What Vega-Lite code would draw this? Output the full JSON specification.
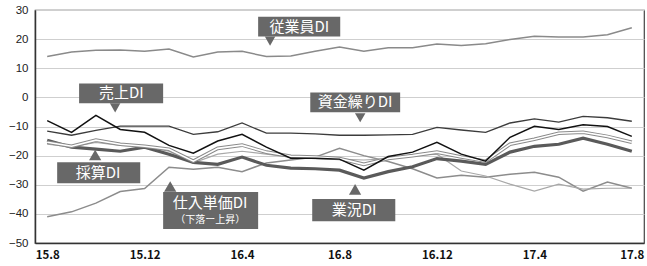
{
  "$schema": "https://vega.github.io/schema/vega-lite/v6.json",
  "width": 609,
  "height": 233,
  "autosize": {"type": "none"},
  "padding": {"left": 35, "top": 10, "right": 3, "bottom": 23},
  "background": "white",
  "config": {
    "view": {"stroke": "#444", "strokeWidth": 1.2},
    "font": "Noto Sans CJK JP",
    "axisY": {"labelOverlap": false, "labelFlush": false, "labelFont": "Liberation Sans"}
  },
  "datasets": {
    "di": [
      {"m":0,"s":"従業員DI","v":14.0},{"m":1,"s":"従業員DI","v":15.6},{"m":2,"s":"従業員DI","v":16.2},{"m":3,"s":"従業員DI","v":16.3},{"m":4,"s":"従業員DI","v":15.8},{"m":5,"s":"従業員DI","v":16.6},{"m":6,"s":"従業員DI","v":13.9},{"m":7,"s":"従業員DI","v":15.6},{"m":8,"s":"従業員DI","v":15.8},{"m":9,"s":"従業員DI","v":14.0},{"m":10,"s":"従業員DI","v":14.2},{"m":11,"s":"従業員DI","v":15.8},{"m":12,"s":"従業員DI","v":17.3},{"m":13,"s":"従業員DI","v":15.8},{"m":14,"s":"従業員DI","v":17.0},{"m":15,"s":"従業員DI","v":17.0},{"m":16,"s":"従業員DI","v":18.3},{"m":17,"s":"従業員DI","v":17.8},{"m":18,"s":"従業員DI","v":18.4},{"m":19,"s":"従業員DI","v":19.9},{"m":20,"s":"従業員DI","v":21.0},{"m":21,"s":"従業員DI","v":20.7},{"m":22,"s":"従業員DI","v":20.7},{"m":23,"s":"従業員DI","v":21.5},{"m":24,"s":"従業員DI","v":23.9},
      {"m":0,"s":"資金繰りDI","v":-11.6},{"m":1,"s":"資金繰りDI","v":-13.0},{"m":2,"s":"資金繰りDI","v":-11.3},{"m":3,"s":"資金繰りDI","v":-9.9},{"m":4,"s":"資金繰りDI","v":-9.9},{"m":5,"s":"資金繰りDI","v":-9.9},{"m":6,"s":"資金繰りDI","v":-12.7},{"m":7,"s":"資金繰りDI","v":-11.8},{"m":8,"s":"資金繰りDI","v":-8.8},{"m":9,"s":"資金繰りDI","v":-12.3},{"m":10,"s":"資金繰りDI","v":-12.3},{"m":11,"s":"資金繰りDI","v":-12.5},{"m":12,"s":"資金繰りDI","v":-13.0},{"m":13,"s":"資金繰りDI","v":-13.0},{"m":14,"s":"資金繰りDI","v":-12.9},{"m":15,"s":"資金繰りDI","v":-12.7},{"m":16,"s":"資金繰りDI","v":-10.3},{"m":17,"s":"資金繰りDI","v":-11.2},{"m":18,"s":"資金繰りDI","v":-12.0},{"m":19,"s":"資金繰りDI","v":-8.8},{"m":20,"s":"資金繰りDI","v":-7.4},{"m":21,"s":"資金繰りDI","v":-8.5},{"m":22,"s":"資金繰りDI","v":-6.5},{"m":23,"s":"資金繰りDI","v":-7.0},{"m":24,"s":"資金繰りDI","v":-8.2},
      {"m":0,"s":"売上DI","v":-8.0},{"m":1,"s":"売上DI","v":-12.0},{"m":2,"s":"売上DI","v":-6.2},{"m":3,"s":"売上DI","v":-11.0},{"m":4,"s":"売上DI","v":-12.0},{"m":5,"s":"売上DI","v":-16.5},{"m":6,"s":"売上DI","v":-19.2},{"m":7,"s":"売上DI","v":-15.0},{"m":8,"s":"売上DI","v":-12.7},{"m":9,"s":"売上DI","v":-17.1},{"m":10,"s":"売上DI","v":-20.9},{"m":11,"s":"売上DI","v":-20.9},{"m":12,"s":"売上DI","v":-21.2},{"m":13,"s":"売上DI","v":-25.0},{"m":14,"s":"売上DI","v":-20.3},{"m":15,"s":"売上DI","v":-18.8},{"m":16,"s":"売上DI","v":-15.4},{"m":17,"s":"売上DI","v":-19.5},{"m":18,"s":"売上DI","v":-21.9},{"m":19,"s":"売上DI","v":-13.7},{"m":20,"s":"売上DI","v":-9.9},{"m":21,"s":"売上DI","v":-11.0},{"m":22,"s":"売上DI","v":-9.4},{"m":23,"s":"売上DI","v":-10.0},{"m":24,"s":"売上DI","v":-13.4},
      {"m":0,"s":"採算DI","v":-15.4},{"m":1,"s":"採算DI","v":-16.8},{"m":2,"s":"採算DI","v":-14.7},{"m":3,"s":"採算DI","v":-16.1},{"m":4,"s":"採算DI","v":-16.8},{"m":5,"s":"採算DI","v":-17.8},{"m":6,"s":"採算DI","v":-21.9},{"m":7,"s":"採算DI","v":-17.5},{"m":8,"s":"採算DI","v":-16.4},{"m":9,"s":"採算DI","v":-18.8},{"m":10,"s":"採算DI","v":-20.2},{"m":11,"s":"採算DI","v":-20.5},{"m":12,"s":"採算DI","v":-21.0},{"m":13,"s":"採算DI","v":-23.0},{"m":14,"s":"採算DI","v":-21.0},{"m":15,"s":"採算DI","v":-20.0},{"m":16,"s":"採算DI","v":-18.8},{"m":17,"s":"採算DI","v":-20.5},{"m":18,"s":"採算DI","v":-21.9},{"m":19,"s":"採算DI","v":-16.1},{"m":20,"s":"採算DI","v":-14.4},{"m":21,"s":"採算DI","v":-12.3},{"m":22,"s":"採算DI","v":-12.0},{"m":23,"s":"採算DI","v":-13.4},{"m":24,"s":"採算DI","v":-15.4},
      {"m":0,"s":"業況DI","v":-14.7},{"m":1,"s":"業況DI","v":-17.1},{"m":2,"s":"業況DI","v":-17.8},{"m":3,"s":"業況DI","v":-18.5},{"m":4,"s":"業況DI","v":-17.1},{"m":5,"s":"業況DI","v":-19.5},{"m":6,"s":"業況DI","v":-22.3},{"m":7,"s":"業況DI","v":-23.0},{"m":8,"s":"業況DI","v":-20.5},{"m":9,"s":"業況DI","v":-23.3},{"m":10,"s":"業況DI","v":-24.3},{"m":11,"s":"業況DI","v":-24.5},{"m":12,"s":"業況DI","v":-25.0},{"m":13,"s":"業況DI","v":-27.7},{"m":14,"s":"業況DI","v":-25.5},{"m":15,"s":"業況DI","v":-23.8},{"m":16,"s":"業況DI","v":-21.0},{"m":17,"s":"業況DI","v":-21.9},{"m":18,"s":"業況DI","v":-23.0},{"m":19,"s":"業況DI","v":-18.8},{"m":20,"s":"業況DI","v":-16.8},{"m":21,"s":"業況DI","v":-16.1},{"m":22,"s":"業況DI","v":-14.0},{"m":23,"s":"業況DI","v":-16.1},{"m":24,"s":"業況DI","v":-18.5},
      {"m":0,"s":"その他DI","v":-16.1},{"m":1,"s":"その他DI","v":-17.0},{"m":2,"s":"その他DI","v":-15.5},{"m":3,"s":"その他DI","v":-16.5},{"m":4,"s":"その他DI","v":-17.0},{"m":5,"s":"その他DI","v":-18.5},{"m":6,"s":"その他DI","v":-22.5},{"m":7,"s":"その他DI","v":-19.5},{"m":8,"s":"その他DI","v":-18.5},{"m":9,"s":"その他DI","v":-19.5},{"m":10,"s":"その他DI","v":-20.5},{"m":11,"s":"その他DI","v":-21.0},{"m":12,"s":"その他DI","v":-21.2},{"m":13,"s":"その他DI","v":-21.5},{"m":14,"s":"その他DI","v":-21.0},{"m":15,"s":"その他DI","v":-20.0},{"m":16,"s":"その他DI","v":-19.5},{"m":17,"s":"その他DI","v":-25.3},{"m":18,"s":"その他DI","v":-27.0},{"m":19,"s":"その他DI","v":-29.8},{"m":20,"s":"その他DI","v":-32.2},{"m":21,"s":"その他DI","v":-29.8},{"m":22,"s":"その他DI","v":-31.5},{"m":23,"s":"その他DI","v":-31.2},{"m":24,"s":"その他DI","v":-31.2},
      {"m":0,"s":"仕入単価DI","v":-41.0},{"m":1,"s":"仕入単価DI","v":-39.3},{"m":2,"s":"仕入単価DI","v":-36.3},{"m":3,"s":"仕入単価DI","v":-32.3},{"m":4,"s":"仕入単価DI","v":-31.3},{"m":5,"s":"仕入単価DI","v":-24.0},{"m":6,"s":"仕入単価DI","v":-24.7},{"m":7,"s":"仕入単価DI","v":-24.0},{"m":8,"s":"仕入単価DI","v":-25.5},{"m":9,"s":"仕入単価DI","v":-22.5},{"m":10,"s":"仕入単価DI","v":-21.5},{"m":11,"s":"仕入単価DI","v":-20.5},{"m":12,"s":"仕入単価DI","v":-17.5},{"m":13,"s":"仕入単価DI","v":-20.0},{"m":14,"s":"仕入単価DI","v":-22.0},{"m":15,"s":"仕入単価DI","v":-24.5},{"m":16,"s":"仕入単価DI","v":-27.7},{"m":17,"s":"仕入単価DI","v":-26.7},{"m":18,"s":"仕入単価DI","v":-27.4},{"m":19,"s":"仕入単価DI","v":-26.4},{"m":20,"s":"仕入単価DI","v":-25.7},{"m":21,"s":"仕入単価DI","v":-27.4},{"m":22,"s":"仕入単価DI","v":-32.2},{"m":23,"s":"仕入単価DI","v":-29.1},{"m":24,"s":"仕入単価DI","v":-31.2}
    ],
    "labels": [
      {"text":"従業員DI","x":10.35,"y":24.3,"x1":8.66,"x2":12.03,"y1":27.7,"y2":20.9},
      {"text":"売上DI","x":3.04,"y":1.4,"x1":1.31,"x2":4.76,"y1":4.8,"y2":-2.05},
      {"text":"資金繰りDI","x":12.64,"y":-1.7,"x1":10.8,"x2":14.49,"y1":1.7,"y2":-5.1},
      {"text":"採算DI","x":2.09,"y":-26.0,"x1":0.41,"x2":3.82,"y1":-22.3,"y2":-29.5},
      {"text":"仕入単価DI","x":6.69,"y":-36.4,"x1":4.76,"x2":8.66,"y1":-32.5,"y2":-45.2},
      {"text":"業況DI","x":12.6,"y":-38.7,"x1":10.88,"x2":14.29,"y1":-34.9,"y2":-42.5}
    ],
    "sublabels": [
      {"text":"（下落ー上昇）","x":6.69,"y":-42.2}
    ],
    "pointers": [
      {"name":"従業員DI","dir":"down","x":9.15,"y":19.3},
      {"name":"売上DI","dir":"down","x":2.79,"y":-3.6},
      {"name":"資金繰りDI","dir":"down","x":12.85,"y":-7.0},
      {"name":"採算DI","dir":"up","x":1.97,"y":-19.8},
      {"name":"仕入単価DI","dir":"up","x":5.05,"y":-30.6},
      {"name":"業況DI","dir":"up","x":12.64,"y":-31.6}
    ]
  },
  "layer": [
    {
      "data": {"name": "di"},
      "transform": [{"filter": "datum.s === '仕入単価DI'"}],
      "mark": {"type": "line", "color": "#8c8c8c", "strokeWidth": 1.5},
      "encoding": {
        "x": {"field": "m", "type": "quantitative", "scale": {"domain": [-0.5, 24.5], "nice": false, "zero": false},
          "axis": {"values": [0, 4, 8, 12, 16, 20, 24], "labelExpr": "['15.8','15.12','16.4','16.8','16.12','17.4','17.8'][datum.value/4]", "title": null, "grid": false, "ticks": false, "domainColor": "#333", "domainWidth": 1.5, "labelFontWeight": "bold", "labelFontSize": 11.5, "labelColor": "#111", "labelPadding": 6, "labelFont": "Noto Sans CJK JP", "labelOverlap": false}},
        "y": {"field": "v", "type": "quantitative", "scale": {"domain": [-50, 30], "nice": false, "zero": false},
          "axis": {"tickCount": 8, "title": null, "grid": true, "gridColor": "#cfcfcf", "gridWidth": 1, "ticks": false, "domainColor": "#333", "domainWidth": 1.5, "labelFontSize": 11.5, "labelColor": "#222", "labelPadding": 7, "labelOverlap": false, "labelFlush": false}}
      }
    },
    {
      "data": {"name": "di"},
      "transform": [{"filter": "datum.s === 'その他DI'"}],
      "mark": {"type": "line", "color": "#a8a8a8", "strokeWidth": 1.2},
      "encoding": {"x": {"field": "m", "type": "quantitative"}, "y": {"field": "v", "type": "quantitative"}}
    },
    {
      "data": {"name": "di"},
      "transform": [{"filter": "datum.s === '従業員DI'"}],
      "mark": {"type": "line", "color": "#8a8a8a", "strokeWidth": 1.5},
      "encoding": {"x": {"field": "m", "type": "quantitative"}, "y": {"field": "v", "type": "quantitative"}}
    },
    {
      "data": {"name": "di"},
      "transform": [{"filter": "datum.s === '業況DI'"}],
      "mark": {"type": "line", "color": "#5a5a5a", "strokeWidth": 3.2},
      "encoding": {"x": {"field": "m", "type": "quantitative"}, "y": {"field": "v", "type": "quantitative"}}
    },
    {
      "data": {"name": "di"},
      "transform": [{"filter": "datum.s === '採算DI'"}],
      "mark": {"type": "line", "color": "#8a8a8a", "strokeWidth": 3.6},
      "encoding": {"x": {"field": "m", "type": "quantitative"}, "y": {"field": "v", "type": "quantitative"}}
    },
    {
      "data": {"name": "di"},
      "transform": [{"filter": "datum.s === '採算DI'"}],
      "mark": {"type": "line", "color": "#ffffff", "strokeWidth": 1.6},
      "encoding": {"x": {"field": "m", "type": "quantitative"}, "y": {"field": "v", "type": "quantitative"}}
    },
    {
      "data": {"name": "di"},
      "transform": [{"filter": "datum.s === '資金繰りDI'"}],
      "mark": {"type": "line", "color": "#3c3c3c", "strokeWidth": 1.3},
      "encoding": {"x": {"field": "m", "type": "quantitative"}, "y": {"field": "v", "type": "quantitative"}}
    },
    {
      "data": {"name": "di"},
      "transform": [{"filter": "datum.s === '売上DI'"}],
      "mark": {"type": "line", "color": "#111111", "strokeWidth": 1.5},
      "encoding": {"x": {"field": "m", "type": "quantitative"}, "y": {"field": "v", "type": "quantitative"}}
    },
    {
      "data": {"name": "labels"},
      "mark": {"type": "rect", "color": "#686868"},
      "encoding": {"x": {"field": "x1", "type": "quantitative"}, "x2": {"field": "x2"}, "y": {"field": "y1", "type": "quantitative"}, "y2": {"field": "y2"}}
    },
    {
      "data": {"name": "pointers"},
      "transform": [{"filter": "datum.dir === 'down'"}],
      "mark": {"type": "point", "shape": "triangle-down", "filled": true, "color": "#686868", "opacity": 1, "size": 110},
      "encoding": {"x": {"field": "x", "type": "quantitative"}, "y": {"field": "y", "type": "quantitative"}}
    },
    {
      "data": {"name": "pointers"},
      "transform": [{"filter": "datum.dir === 'up'"}],
      "mark": {"type": "point", "shape": "triangle-up", "filled": true, "color": "#686868", "opacity": 1, "size": 150},
      "encoding": {"x": {"field": "x", "type": "quantitative"}, "y": {"field": "y", "type": "quantitative"}}
    },
    {
      "data": {"name": "labels"},
      "mark": {"type": "text", "color": "white", "fontSize": 15, "font": "Noto Sans CJK JP", "align": "center", "baseline": "middle"},
      "encoding": {"x": {"field": "x", "type": "quantitative"}, "y": {"field": "y", "type": "quantitative"}, "text": {"field": "text"}}
    },
    {
      "data": {"name": "sublabels"},
      "mark": {"type": "text", "color": "white", "fontSize": 10, "font": "Noto Sans CJK JP", "align": "center", "baseline": "middle"},
      "encoding": {"x": {"field": "x", "type": "quantitative"}, "y": {"field": "y", "type": "quantitative"}, "text": {"field": "text"}}
    }
  ]
}
